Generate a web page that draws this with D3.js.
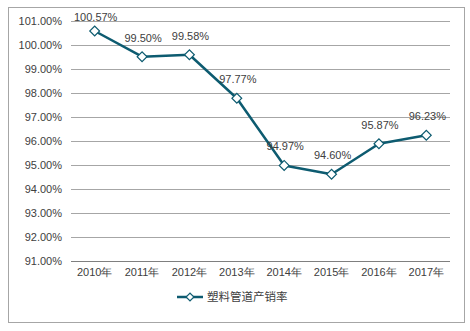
<!DOCTYPE html>
<html><head><meta charset="utf-8">
<script src="https://cdn.jsdelivr.net/npm/d3@7"></script>
<style>body{margin:0;background:#fff;} svg{display:block;font-family:"Liberation Sans",Arial,sans-serif;}</style>
</head><body>
<script>
const categories = ["2010年","2011年","2012年","2013年","2014年","2015年","2016年","2017年"];
const values = [100.57, 99.50, 99.58, 97.77, 94.97, 94.60, 95.87, 96.23];
const yTicks = [91,92,93,94,95,96,97,98,99,100,101];
const seriesName = "塑料管道产销率";

const W = 470, H = 331;
const svg = d3.select("body").append("svg").attr("width", W).attr("height", H);
svg.append("rect").attr("x",8.5).attr("y",7.5).attr("width",456).attr("height",315)
  .attr("fill","#fff").attr("stroke","#a6a6a6").attr("stroke-width",1);

const x = d3.scaleBand().domain(categories).range([71, 450]);
const y = d3.scaleLinear().domain([91, 101]).range([260.7, 20.7]);
const color = "#0d5b70";

// gridlines
svg.append("g").selectAll("line").data(yTicks).join("line")
  .attr("x1",71).attr("x2",450)
  .attr("y1",d=>Math.round(y(d))+0.5).attr("y2",d=>Math.round(y(d))+0.5)
  .attr("stroke",d=>d===91?"#7f7f7f":"#a6a6a6").attr("stroke-width",1);

// y axis labels
const yAxis = d3.axisLeft(y).tickValues(yTicks).tickSize(0).tickPadding(9)
  .tickFormat(d=>d3.format(".2f")(d)+"%");
const gy = svg.append("g").attr("transform","translate(71,0)").call(yAxis);
gy.select(".domain").remove();
gy.selectAll("text").attr("font-size",11).attr("fill","#404040").attr("font-family","Liberation Sans, Arial, sans-serif");

// x axis labels
const xAxis = d3.axisBottom(x).tickSize(0).tickPadding(7);
const gx = svg.append("g").attr("transform","translate(0,261)").call(xAxis);
gx.select(".domain").remove();
gx.selectAll("text").attr("font-size",11).attr("fill","#404040").attr("font-family","Liberation Sans, Arial, sans-serif");

const cx = d => x(d) + x.bandwidth()/2;
const line = d3.line().x((d,i)=>cx(categories[i])).y(d=>y(d));
svg.append("path").datum(values).attr("d",line).attr("fill","none")
  .attr("stroke",color).attr("stroke-width",2.5).attr("stroke-linejoin","round");

svg.append("g").selectAll("path").data(values).join("path")
  .attr("transform",(d,i)=>`translate(${cx(categories[i])},${y(d)}) rotate(45)`)
  .attr("d", d3.symbol().type(d3.symbolSquare).size(48))
  .attr("fill","#fff").attr("stroke",color).attr("stroke-width",1.2);

svg.append("g").selectAll("text").data(values).join("text")
  .attr("x",(d,i)=>cx(categories[i])+1).attr("y",d=>Math.max(y(d)-15, 20.5))
  .attr("text-anchor","middle").attr("font-size",11).attr("fill","#404040")
  .text(d=>d3.format(".2f")(d)+"%");

// legend
const lg = svg.append("g");
lg.append("line").attr("x1",177).attr("x2",203).attr("y1",297).attr("y2",297)
  .attr("stroke",color).attr("stroke-width",2.5);
lg.append("path").attr("transform","translate(190,297) rotate(45)")
  .attr("d", d3.symbol().type(d3.symbolSquare).size(30))
  .attr("fill","#fff").attr("stroke",color).attr("stroke-width",1.2);
lg.append("text").attr("x",207).attr("y",301).attr("font-size",11.5).attr("fill","#404040")
  .attr("font-family","Noto Sans CJK SC, sans-serif").text(seriesName);
</script>
</body></html>
